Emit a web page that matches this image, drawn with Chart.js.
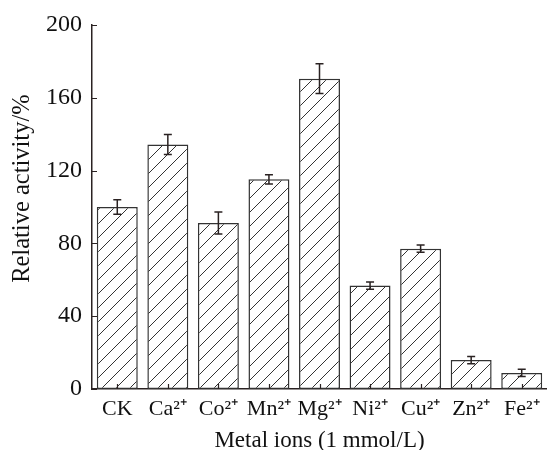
<!DOCTYPE html>
<html>
<head>
<meta charset="utf-8">
<script src="https://cdn.jsdelivr.net/npm/chart.js@4"></script>
<style>
html,body{margin:0;padding:0;background:#fff;}
#wrap{width:547px;height:450px;position:relative;}
</style>
</head>
<body>
<div id="wrap"><canvas id="c" width="547" height="450"></canvas></div>
<script>
const categories = ["CK", "Ca²⁺", "Co²⁺", "Mn²⁺", "Mg²⁺", "Ni²⁺", "Cu²⁺", "Zn²⁺", "Fe²⁺"];
const activity = [100, 134.4, 91.2, 115.2, 170.5, 56.8, 77.1, 15.9, 8.8];
const errors = [4, 5.5, 6, 2.5, 8.2, 2, 2, 2, 2];
const yTicks = [0, 40, 80, 120, 160, 200];
const xTitle = 'Metal ions (1 mmol/L)';
const yTitle = '      Relative activity/%';

const ink = '#2a2222';

function hatch() {
  const s = 14;
  const c = document.createElement('canvas');
  c.width = s; c.height = s;
  const g = c.getContext('2d');
  g.fillStyle = '#fff';
  g.fillRect(0, 0, s, s);
  g.strokeStyle = '#333';
  g.lineWidth = 1;
  g.beginPath();
  g.moveTo(0, s); g.lineTo(s, 0);
  g.moveTo(-2, 2); g.lineTo(2, -2);
  g.moveTo(s - 2, s + 2); g.lineTo(s + 2, s - 2);
  g.stroke();
  return document.getElementById('c').getContext('2d').createPattern(c, 'repeat');
}

const errPlugin = {
  id: 'err',
  afterDatasetsDraw(chart) {
    const ctx = chart.ctx;
    const meta = chart.getDatasetMeta(0);
    const y = chart.scales.y;
    ctx.save();
    ctx.strokeStyle = ink;
    ctx.lineWidth = 1.5;
    meta.data.forEach((bar, i) => {
      const x = bar.x;
      const top = y.getPixelForValue(activity[i] + errors[i]);
      const bot = y.getPixelForValue(activity[i] - errors[i]);
      ctx.beginPath();
      ctx.moveTo(x, top); ctx.lineTo(x, bot);
      ctx.moveTo(x - 4, top); ctx.lineTo(x + 4, top);
      ctx.moveTo(x - 4, bot); ctx.lineTo(x + 4, bot);
      ctx.stroke();
    });
    ctx.restore();
  }
};

const tickPlugin = {
  id: 'inticks',
  afterDraw(chart) {
    const ctx = chart.ctx;
    const xs = chart.scales.x, ys = chart.scales.y;
    const a = chart.chartArea;
    ctx.save();
    ctx.strokeStyle = ink;
    ctx.lineWidth = 1.2;
    ctx.beginPath();
    ys.ticks.forEach((t, i) => {
      const py = Math.round(ys.getPixelForTick(i)) + 0.5;
      ctx.moveTo(a.left, py); ctx.lineTo(a.left + 5, py);
    });
    xs.ticks.forEach((t, i) => {
      const px = Math.round(xs.getPixelForTick(i)) + 0.5;
      ctx.moveTo(px, a.bottom); ctx.lineTo(px, a.bottom - 5);
    });
    ctx.stroke();
    ctx.restore();
  }
};

const fam = '"Liberation Serif", "Times New Roman", serif';
const tickFont = { family: fam, size: 22 };
const yTickFont = { family: fam, size: 24 };
const xTitleFont = { family: fam, size: 23, lineHeight: 0.8 };
const yTitleFont = { family: fam, size: 24.5 };

new Chart(document.getElementById('c'), {
  type: 'bar',
  data: {
    labels: categories,
    datasets: [{
      data: activity,
      backgroundColor: hatch(),
      borderColor: '#333',
      borderWidth: 1.5,
      borderSkipped: false,
      barPercentage: 0.81,
      categoryPercentage: 1.0
    }]
  },
  options: {
    responsive: false,
    animation: false,
    devicePixelRatio: 1,
    layout: { padding: { top: 25, right: 0, left: 0, bottom: 0 } },
    plugins: { legend: { display: false }, tooltip: { enabled: false } },
    scales: {
      x: {
        grid: { display: false, drawTicks: false },
        border: { display: true, color: ink, width: 1.5 },
        ticks: { font: tickFont, color: '#111', padding: 7, maxRotation: 0, autoSkip: false },
        title: { display: true, text: xTitle, font: xTitleFont, color: '#111', padding: { top: 0, bottom: 0 } },
        afterFit(s) { s.height = 61; }
      },
      y: {
        min: 0, max: 200,
        afterBuildTicks(s) { s.ticks = yTicks.map(v => ({ value: v })); },
        grid: { display: false, drawTicks: false },
        border: { display: true, color: ink, width: 1.5 },
        ticks: { font: yTickFont, color: '#111', padding: 10 },
        title: { display: true, text: yTitle, font: yTitleFont, color: '#111', padding: { top: 8, bottom: 0 } },
        afterFit(s) { s.width = 92; }
      }
    }
  },
  plugins: [errPlugin, tickPlugin]
});
</script>
</body>
</html>
